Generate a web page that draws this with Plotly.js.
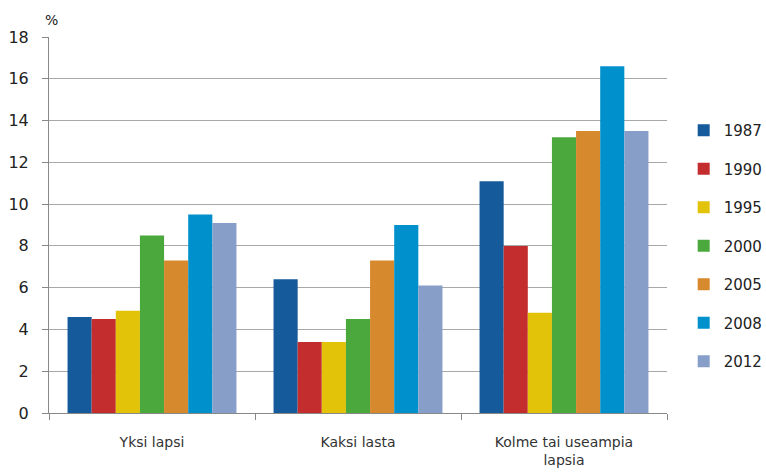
<!DOCTYPE html>
<html>
<head>
<meta charset="utf-8">
<script src="https://cdn.plot.ly/plotly-3.0.1.min.js"></script>
<style>html,body{margin:0;padding:0;background:#fff;}#chart{width:766px;height:473px;}</style>
</head>
<body>
<div id="chart"></div>
<script>
var categories = ["Yksi lapsi", "Kaksi lasta", "Kolme tai useampia<br>lapsia"];
var years = ["1987", "1990", "1995", "2000", "2005", "2008", "2012"];
var v1987 = [4.6, 6.4, 11.1];
var v1990 = [4.5, 3.4, 8.0];
var v1995 = [4.9, 3.4, 4.8];
var v2000 = [8.5, 4.5, 13.2];
var v2005 = [7.3, 7.3, 13.5];
var v2008 = [9.5, 9.0, 16.6];
var v2012 = [9.1, 6.1, 13.5];
var yTicks = [0, 2, 4, 6, 8, 10, 12, 14, 16, 18];

var seriesValues = [v1987, v1990, v1995, v2000, v2005, v2008, v2012];
var colors = ["#155a9a", "#c32d2e", "#e3c20a", "#4aa83c", "#d6892d", "#0090cc", "#879fc8"];

var font = "Verdana, 'DejaVu Sans', sans-serif";
var traces = years.map(function(y, i) {
  return {
    type: "bar",
    name: y,
    x: categories,
    y: seriesValues[i],
    legendgroup: "g" + i,
    marker: {color: colors[i], line: {width: 0}}
  };
});

var layout = {
  width: 766, height: 473,
  margin: {l: 49, r: 99, t: 37, b: 60, autoexpand: false},
  paper_bgcolor: "#fff", plot_bgcolor: "#fff",
  barmode: "group", bargap: 0.18, bargroupgap: 0,
  font: {family: font, size: 14, color: "#222"},
  xaxis: {
    type: "category",
    tickson: "boundaries",
    ticks: "outside", ticklen: 6, tickcolor: "#888",
    showline: true, linecolor: "#888", linewidth: 1,
    showgrid: false,
    ticklabelstandoff: 16,
    tickfont: {family: font, size: 14, color: "#333"}
  },
  yaxis: {
    range: [0, 18], tickvals: yTicks, ticktext: yTicks.map(String),
    ticks: "outside", ticklen: 6, tickcolor: "#888",
    showline: true, linecolor: "#888", linewidth: 1,
    showgrid: true, gridcolor: "#a8a8a8", gridwidth: 1,
    zeroline: false,
    ticklabelstandoff: 10,
    tickfont: {family: font, size: 16, color: "#222"}
  },
  legend: {
    x: 1.027, xanchor: "left", y: 0.795, yanchor: "top",
    traceorder: "grouped", tracegroupgap: 16,
    font: {family: font, size: 15, color: "#222"},
    itemwidth: 30
  },
  annotations: [{
    text: "%", xref: "paper", yref: "paper", x: 0, y: 1, xanchor: "center", yanchor: "bottom",
    xshift: 2, yshift: 7, showarrow: false, font: {family: font, size: 14, color: "#222"}
  }],
  showlegend: true
};

Plotly.newPlot("chart", traces, layout, {displayModeBar: false, staticPlot: true});
</script>
</body>
</html>
